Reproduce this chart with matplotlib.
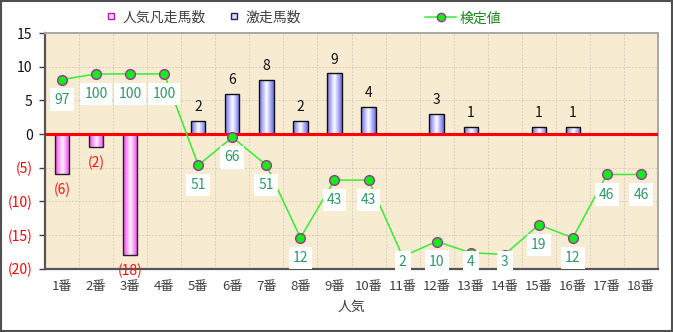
import matplotlib
matplotlib.use("Agg")
import matplotlib.pyplot as plt
import numpy as np
from matplotlib.colors import LinearSegmentedColormap
from matplotlib.lines import Line2D
from matplotlib.patches import Rectangle

plt.rcParams["font.family"] = ["Noto Sans CJK JP", "DejaVu Sans"]

categories = [f"{i}番" for i in range(1, 19)]
poor_runs = [-6, -2, -18, 0, 0, 0, 0, 0, 0, 0, 0, 0, 0, 0, 0, 0, 0, 0]
strong_runs = [0, 0, 0, 0, 2, 6, 8, 2, 9, 4, 0, 3, 1, 0, 1, 1, 0, 0]
test_values = [97, 100, 100, 100, 51, 66, 51, 12, 43, 43, 2, 10, 4, 3, 19, 12, 46, 46]
y_ticks = [-20, -15, -10, -5, 0, 5, 10, 15]
y_tick_labels = ["(20)", "(15)", "(10)", "(5)", "0", "5", "10", "15"]


def shade_bars(ax, bars, edge, center):
    cmap = LinearSegmentedColormap.from_list("bar", [edge, center, edge], N=256)
    grad = np.linspace(0, 1, 64).reshape(1, -1)
    for b in bars:
        if b.get_height() == 0:
            b.set_visible(False)
            continue
        x, y = b.get_x(), b.get_y()
        w, h = b.get_width(), b.get_height()
        im = ax.imshow(grad, cmap=cmap, extent=[x, x + w, min(y, y + h), max(y, y + h)],
                       aspect="auto", zorder=2, interpolation="bicubic")
        im.set_clip_path(b)


fig = plt.figure(figsize=(6.73, 3.32), dpi=100)
ax = fig.add_axes([0.0669, 0.1907, 0.9108, 0.7099])
ax.set_facecolor("#F7EBD1")

x = np.arange(len(categories))
pink = ax.bar(x, poor_runs, width=0.42, facecolor="none", edgecolor="#222222",
              linewidth=1.0, zorder=3)
blue = ax.bar(x, strong_runs, width=0.42, facecolor="none", edgecolor="#111111",
              linewidth=1.0, zorder=3)
shade_bars(ax, pink, "#F040F0", "#FFF0FF")
shade_bars(ax, blue, "#6A6AF0", "#FFFFFF")

for i, v in enumerate(poor_runs):
    if v:
        ax.annotate(f"({-v})", (i, v), xytext=(0, -11), textcoords="offset points",
                    ha="center", va="center", color="#FF1010", fontsize=10, zorder=5)
for i, v in enumerate(strong_runs):
    if v:
        ax.annotate(str(v), (i, v), xytext=(0, 10), textcoords="offset points",
                    ha="center", va="center", color="#111111", fontsize=10, zorder=5)

ax.axhline(0, color="#FF0000", linewidth=2.2, zorder=4)

ax.set_xlim(-0.5, len(categories) - 0.5)
ax.set_ylim(-20, 15)
ax.set_yticks(y_ticks)
ax.set_yticklabels(y_tick_labels, fontsize=10)
for lbl, val in zip(ax.get_yticklabels(), y_ticks):
    lbl.set_color("#FF0000" if val < 0 else "#111111")
ax.set_xticks(x)
ax.set_xticklabels(categories, fontsize=9.5, color="#404040")
ax.set_xticks(np.arange(len(categories) + 1) - 0.5, minor=True)
ax.tick_params(axis="x", which="both", length=0, pad=8)
ax.tick_params(axis="y", length=4, width=1, color="#404040", pad=5)
ax.grid(True, which="minor", axis="x", color="#CFC7B9", linestyle=(0, (2, 2)), linewidth=0.6)
ax.grid(True, which="major", axis="y", color="#CFC7B9", linestyle=(0, (2, 2)), linewidth=0.6)
ax.set_axisbelow(True)
ax.set_xlabel("人気", fontsize=10, color="#404040", labelpad=5)

for side in ("left", "bottom"):
    ax.spines[side].set_color("#555555")
    ax.spines[side].set_linewidth(1.6)
for side in ("top", "right"):
    ax.spines[side].set_color("#A8A8A8")
    ax.spines[side].set_linewidth(1.4)

ax2 = ax.twinx()
ax2.set_ylim(-4.6, 122)
ax2.set_yticks([])
for s in ax2.spines.values():
    s.set_visible(False)
ax2.plot(x, test_values, color="#33EE33", linewidth=1.1, marker="o", markersize=7,
         markerfacecolor="#11EE11", markeredgecolor="#993399", markeredgewidth=1.0, zorder=5)
for i, v in enumerate(test_values):
    ax2.text(i, max(v - 10.8, -1.0), str(v), ha="center", va="center", fontsize=10,
             color="#2E9866", zorder=6,
             bbox=dict(boxstyle="square,pad=0.3", facecolor="white", edgecolor="none"))

legend_kw = dict(frameon=False, fontsize=10, handlelength=1.0, handletextpad=0.3,
                 borderpad=0, borderaxespad=0)
h1 = Line2D([], [], linestyle="none", marker="s", markersize=5,
            markerfacecolor="#FFD0FF", markeredgecolor="#AA22AA")
h2 = Line2D([], [], linestyle="none", marker="s", markersize=5,
            markerfacecolor="#DDDDFF", markeredgecolor="#222266")
h3 = Line2D([], [], color="#33EE33", linewidth=1.1, marker="o", markersize=6,
            markerfacecolor="#11EE11", markeredgecolor="#993399")
l1 = fig.legend([h1], ["人気凡走馬数"], loc="center left", bbox_to_anchor=(0.155, 0.948), **legend_kw)
l2 = fig.legend([h2], ["激走馬数"], loc="center left", bbox_to_anchor=(0.338, 0.948), **legend_kw)
l3 = fig.legend([h3], ["検定値"], loc="center left", bbox_to_anchor=(0.632, 0.945),
                **{**legend_kw, "handlelength": 2.2})
for t in l1.get_texts() + l2.get_texts():
    t.set_color("#404040")
for t in l3.get_texts():
    t.set_color("#1A8A1A")

fig.patches.append(Rectangle((0.001, 0.002), 0.997, 0.995, transform=fig.transFigure,
                             fill=False, edgecolor="#505050", linewidth=1.5))

fig.savefig("out.png", dpi=100)
